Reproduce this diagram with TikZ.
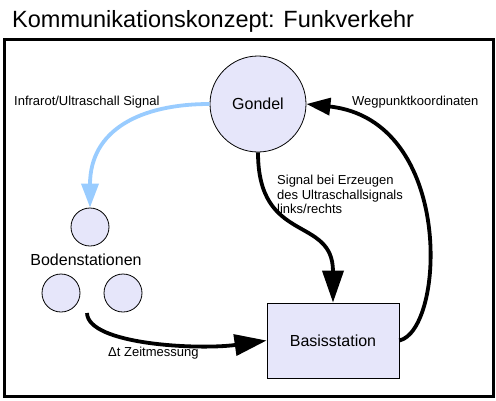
\documentclass[tikz,border=0pt]{standalone}
\usepackage{fontspec}
\setmainfont{Liberation Sans}
\usetikzlibrary{arrows.meta}
\definecolor{nodefill}{HTML}{E6E6FA}
\definecolor{irblue}{HTML}{99CCFF}
\tikzset{
  station/.style={circle,draw=black,fill=nodefill,line width=0.8pt,minimum size=38pt,inner sep=0pt},
  bigarrow/.style={line width=3.8pt,-{Triangle[length=32pt,width=21pt]}},
  midarrow/.style={line width=3.8pt,-{Triangle[length=24pt,width=17pt]}},
  lbl/.style={font=\fontsize{13}{14.5}\selectfont,inner sep=0pt,align=left}
}
\begin{document}
\begin{tikzpicture}[x=1pt,y=-1pt]
\useasboundingbox (0,0) rectangle (496,400);
\node[anchor=base west,inner sep=0pt,font=\fontsize{23.5}{28}\selectfont] (title) at (12,27) {Kommunikationskonzept: Funkverkehr};
\draw[line width=3pt] (4,39) rectangle (493,396);
\node[circle,draw=black,fill=nodefill,line width=0.8pt,minimum size=96pt,inner sep=0pt,font=\fontsize{16}{19}\selectfont] (gondel) at (258,104) {Gondel};
\node[station] (b1) at (90,227) {};
\node[station] (b2) at (61,293) {};
\node[station] (b3) at (123,293) {};
\node[inner sep=0pt,font=\fontsize{16}{19}\selectfont] (bodenlbl) at (86,260) {Bodenstationen};
\node[draw=black,fill=nodefill,line width=0.8pt,minimum width=132pt,minimum height=75pt,inner sep=0pt,font=\fontsize{16}{19}\selectfont] (basis) at (333,340.5) {Basisstation};
\coordinate (bs) at (87,313);
% connectors
\draw[irblue,midarrow] (gondel.west) .. controls (140,104) and (90,130) .. (b1.north);
\draw[bigarrow] (gondel.south) .. controls (258,245) and (333,215) .. (basis.north);
\draw[midarrow] (basis.east) .. controls (445,330) and (455,120) .. (gondel.east);
\draw[bigarrow] (bs) .. controls (88,345) and (200,350) .. (basis.west);
% labels
\node[lbl,anchor=west] (l1) at (14,102) {Infrarot/Ultraschall Signal};
\node[lbl,anchor=west] (l2) at (352,102) {Wegpunktkoordinaten};
\node[lbl,anchor=north west] (l3) at (277,175) {Signal bei Erzeugen\\des Ultraschallsignals\\links/rechts};
\node[lbl,anchor=west] (l4) at (108,353) {Δt Zeitmessung};
\end{tikzpicture}
\end{document}
